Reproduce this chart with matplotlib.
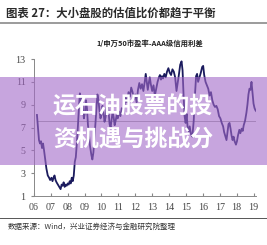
import matplotlib
matplotlib.use("Agg")
import matplotlib.pyplot as plt
from matplotlib.patches import Rectangle
from matplotlib.lines import Line2D

# decimal year / value pairs
years = [2006.18, 2006.24, 2006.30, 2006.36, 2006.42, 2006.48, 2006.54, 2006.60, 2006.66, 2006.74,
         2006.82, 2006.90, 2006.96, 2007.04, 2007.10, 2007.16, 2007.22, 2007.28, 2007.34, 2007.42,
         2007.50, 2007.58, 2007.64, 2007.70, 2007.76, 2007.82, 2007.88, 2007.94, 2008.00, 2008.06,
         2008.12, 2008.18, 2008.24, 2008.30, 2008.36, 2008.42, 2008.48, 2008.54, 2008.60, 2008.66,
         2008.72, 2008.78, 2008.84, 2008.90, 2008.96, 2009.02, 2009.08, 2009.14, 2009.20, 2009.26,
         2009.32, 2009.40, 2009.46, 2009.52, 2009.58, 2009.64, 2009.70, 2009.76, 2009.82, 2009.88,
         2009.94, 2010.00, 2010.06, 2010.12, 2010.18, 2010.24, 2010.30, 2010.36, 2010.42, 2010.48,
         2010.54, 2010.60, 2010.66, 2010.72, 2010.78, 2010.84, 2010.90, 2010.96, 2011.04, 2011.12,
         2011.20, 2011.28, 2011.36, 2011.44, 2011.52, 2011.60, 2011.68, 2011.76, 2011.84, 2011.92,
         2012.00, 2012.08, 2012.16, 2012.24, 2012.32, 2012.40, 2012.48, 2012.56, 2012.62, 2012.68,
         2012.74, 2012.80, 2012.86, 2012.92, 2013.00, 2013.08, 2013.16, 2013.24, 2013.32, 2013.40,
         2013.46, 2013.52, 2013.58, 2013.64, 2013.72, 2013.80, 2013.88, 2013.96, 2014.04, 2014.12,
         2014.20, 2014.28, 2014.36, 2014.44, 2014.50, 2014.58, 2014.66, 2014.74, 2014.80, 2014.86,
         2014.92, 2014.98, 2015.04, 2015.10, 2015.16, 2015.22, 2015.30, 2015.38, 2015.46, 2015.54,
         2015.60, 2015.66, 2015.72, 2015.80, 2015.88, 2015.96, 2016.02, 2016.08, 2016.16, 2016.24,
         2016.32, 2016.40, 2016.48, 2016.56, 2016.64, 2016.72, 2016.80, 2016.88, 2016.96, 2017.04,
         2017.12, 2017.20, 2017.26, 2017.32, 2017.40, 2017.46, 2017.52, 2017.58, 2017.64, 2017.70,
         2017.76, 2017.82, 2017.88, 2017.96, 2018.02, 2018.08, 2018.16, 2018.22, 2018.30, 2018.36,
         2018.42, 2018.50, 2018.58, 2018.64, 2018.70, 2018.76, 2018.82, 2018.88, 2018.94, 2019.00,
         2019.06, 2019.12, 2019.18]
values = [8.1, 7.0, 5.9, 5.6, 5.8, 5.2, 5.6, 5.0, 4.3, 3.4,
          2.8, 2.6, 2.4, 2.6, 2.3, 2.6, 2.8, 2.4, 2.2, 2.0,
          1.8, 1.6, 2.0, 1.9, 2.2, 1.8, 2.0, 1.9, 2.1, 2.0,
          2.3, 2.1, 2.6, 2.3, 2.8, 4.0, 4.4, 5.6, 7.0, 8.6,
          10.0, 9.2, 9.7, 8.6, 7.8, 8.3, 9.4, 8.7, 7.2, 6.4,
          5.4, 4.6, 4.2, 4.8, 6.0, 7.3, 8.6, 9.9, 9.4, 8.5,
          7.8, 8.1, 8.9, 8.3, 7.5, 7.9, 8.7, 9.1, 8.4, 7.3,
          7.0, 7.7, 8.4, 7.9, 7.2, 7.6, 8.1, 7.8, 8.4, 8.0,
          8.7, 8.3, 9.0, 9.6, 9.2, 10.1, 9.7, 10.5, 10.1, 9.5,
          9.9, 9.2, 10.3, 10.9, 10.4, 10.8, 10.2, 11.0, 11.7, 11.0,
          10.3, 10.9, 11.4, 10.8, 10.2, 10.7, 9.8, 10.4, 11.0, 11.4,
          11.6, 11.2, 11.5, 11.3, 11.7, 11.4, 11.9, 12.2, 11.8, 11.6,
          12.1, 11.9, 11.4, 10.2, 10.8, 11.6, 12.5, 12.8, 12.0, 9.8,
          8.0, 7.4, 8.2, 7.0, 6.6, 7.1, 6.4, 6.2, 7.6, 10.0,
          11.5, 11.7, 11.0, 11.4, 11.8, 12.3, 12.4, 11.6, 11.0, 10.7,
          10.4, 9.8, 10.1, 9.4, 9.0, 8.8, 8.9, 8.6, 8.0, 7.8,
          7.4, 7.1, 6.6, 6.3, 5.9, 6.6, 7.3, 7.4, 6.9, 6.3,
          5.9, 6.2, 5.8, 5.5, 5.8, 6.3, 6.8, 6.5, 6.9, 6.7,
          7.2, 7.6, 8.3, 9.0, 9.9, 10.4, 10.3, 11.0, 10.0, 9.1,
          8.7, 8.5, 8.4]
mean_value = 7.6

year_ticks = list(range(2006, 2020))
year_labels = ["06", "07", "08", "09", "10", "11", "12", "13", "14", "15", "16", "17", "18", "19"]
y_ticks = [1, 3, 5, 7, 9, 11, 13]

title = "图表 27：大小盘股的估值比价都趋于平衡"
subtitle = "1/申万50市盈率-AAA级信用利差"
source = "数据来源：Wind，兴业证券经济与金融研究院整理"
overlay_lines = ["运石油股票的投", "资机遇与挑战分"]

cjk = ["Noto Sans CJK SC", "DejaVu Sans"]
serif = "Liberation Serif"

fig = plt.figure(figsize=(2.67, 2.45), dpi=100)
fig.patch.set_facecolor("white")

ax = fig.add_axes([0.127, 0.2, 0.832, 0.559])
ax.plot(years, values, color="#1b1b5e", linewidth=1.3, zorder=3)
ax.plot([years[0], 2019.25], [mean_value, mean_value], color="#9a9a9a", linewidth=0.6, zorder=2)

ax.set_xlim(2006, 2019.15)
ax.set_ylim(1, 13)
ax.set_xticks(year_ticks)
ax.set_xticklabels(year_labels)
ax.set_yticks(y_ticks)
for lab in ax.get_xticklabels() + ax.get_yticklabels():
    lab.set_fontfamily(serif)
    lab.set_fontsize(7.2)
    lab.set_color("#444444")
ax.tick_params(axis="x", direction="in", length=2, color="#888888", pad=5)
ax.tick_params(axis="y", direction="out", length=2, color="#888888", pad=4)
for side in ["top", "right"]:
    ax.spines[side].set_visible(False)
for side in ["left", "bottom"]:
    ax.spines[side].set_color("#888888")
    ax.spines[side].set_linewidth(0.7)

# header / footer text
fig.text(0.022, 0.947, title, fontsize=8.2, fontweight="bold", color="#2a2a2a",
         family=cjk, va="center", ha="left")
fig.add_artist(Line2D([0, 1], [0.908, 0.908], color="#8a8a8a", linewidth=1.2))
fig.text(0.562, 0.824, subtitle, fontsize=5.3, fontweight="bold", color="#222222",
         family=cjk, va="center", ha="center")
fig.add_artist(Line2D([0, 1], [0.110, 0.110], color="#555555", linewidth=0.7))
fig.text(0.03, 0.073, source, fontsize=5.4, color="#333333", family=cjk, va="center", ha="left")

# translucent banner across the middle
fig.add_artist(Rectangle((0, 0.3265), 1, 0.359, transform=fig.transFigure,
                         facecolor="#a369c8", alpha=0.6, edgecolor="none", zorder=5))
fig.text(0.498, 0.563, overlay_lines[0], fontsize=16.5, fontweight="bold", color="white",
         family=cjk, va="center", ha="center", zorder=6)
fig.text(0.498, 0.433, overlay_lines[1], fontsize=16.5, fontweight="bold", color="white",
         family=cjk, va="center", ha="center", zorder=6)

fig.savefig("out.png", dpi=100)
